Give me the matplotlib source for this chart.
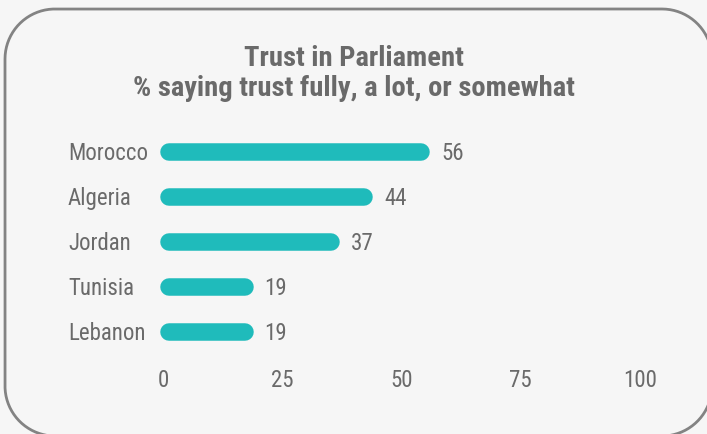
import matplotlib
matplotlib.use("Agg")
import numpy as np
import matplotlib.pyplot as plt
from matplotlib import font_manager
from matplotlib.lines import Line2D
from matplotlib.transforms import IdentityTransform

# Data
countries = ["Morocco", "Algeria", "Jordan", "Tunisia", "Lebanon"]
trust_pct = [56, 44, 37, 19, 19]
x_ticks = [0, 25, 50, 75, 100]
x_tick_labels = ["0", "25", "50", "75", "100"]
title_lines = ["Trust in Parliament", "% saying trust fully, a lot, or somewhat"]

BG = "#f6f6f6"
BAR = "#1fbbbb"
TEXT = "#6a6a6a"
BORDER = "#838383"


def pick_narrow():
    """Find a narrow/condensed face for the labels."""
    fonts = font_manager.fontManager.ttflist
    names = {f.name for f in fonts}
    for n in ["Liberation Sans Narrow", "Roboto Condensed", "Open Sans Condensed",
              "Noto Sans Condensed", "Arial Narrow", "Noto Sans ExtraCondensed"]:
        if n in names:
            return dict(family=n)
    for f in fonts:
        if "Narrow" in f.name or "Condensed" in f.name:
            return dict(family=f.name)
    for pref in ["Noto Sans", "Roboto", "Open Sans"]:
        for f in fonts:
            if f.name == pref and f.stretch in ("condensed", "extra-condensed",
                                                 "semi-condensed"):
                return dict(family=pref, stretch=f.stretch)
    return dict(family="DejaVu Sans", stretch="condensed")


narrow = pick_narrow()
LABEL_SIZE = 16.5
TITLE_SIZE = 20.5

W, H = 707, 434
DPI = 100
PT = 72 / DPI  # points per pixel
fig = plt.figure(figsize=(W / DPI, H / DPI), dpi=DPI, facecolor=BG)

# Plot area in pixel terms
x0_px, x100_px = 163, 640
top_px, bottom_px = 129.5, 354
ax = fig.add_axes([x0_px / W, 1 - bottom_px / H,
                   (x100_px - x0_px) / W, (bottom_px - top_px) / H])
ax.set_facecolor("none")
ax.set_xlim(0, 100)
ax.set_ylim(len(countries) - 0.5, -0.5)
for s in ax.spines.values():
    s.set_visible(False)
ax.set_yticks([])
ax.set_xticks(x_ticks)
ax.set_xticklabels(x_tick_labels, color=TEXT, fontsize=LABEL_SIZE, **narrow)
ax.tick_params(axis="x", length=0, pad=11)

# Rounded bars: thick lines with round caps, ends pulled in by the cap radius
bar_px = 17.5
lw_pt = bar_px * PT
px_per_unit = (x100_px - x0_px) / 100
cap = (bar_px / 2) / px_per_unit
for i, v in enumerate(trust_pct):
    ax.plot([cap - 0.6, v - cap], [i, i], color=BAR, lw=lw_pt,
            solid_capstyle="round", zorder=3, clip_on=False)
    ax.annotate(str(v), xy=(v, i), xytext=(11 * PT, -2 * PT),
                textcoords="offset points", ha="left", va="center",
                color=TEXT, fontsize=LABEL_SIZE, **narrow)

# Country names, left aligned
label_x = (68 - x0_px) / (x100_px - x0_px)
for i, name in enumerate(countries):
    ax.annotate(name, xy=(label_x, i), xycoords=ax.get_yaxis_transform(),
                xytext=(0, -2 * PT), textcoords="offset points",
                ha="left", va="center", color=TEXT, fontsize=LABEL_SIZE,
                **narrow)

# Title
for line, y_px in zip(title_lines, [59, 89]):
    fig.text(0.5, 1 - y_px / H, line, ha="center", va="center",
             color=TEXT, fontsize=TITLE_SIZE, fontweight="bold", **narrow)


# Rounded frame as a polyline (runs off the right and bottom edges)
def rounded_rect(x0, y0, x1, y1, r, n=40):
    pts = []
    corners = [(x1 - r, y1 - r, 0), (x0 + r, y1 - r, 90),
               (x0 + r, y0 + r, 180), (x1 - r, y0 + r, 270)]
    for cx, cy, a0 in corners:
        t = np.radians(np.linspace(a0, a0 + 90, n))
        pts.append(np.column_stack([cx + r * np.cos(t), cy + r * np.sin(t)]))
    pts = np.vstack(pts + [pts[0][:1]])
    return pts[:, 0], pts[:, 1]


fx, fy = rounded_rect(5, H - 436, 712, H - 9, 50)
frame = Line2D(fx, fy, transform=IdentityTransform(), color=BORDER,
               linewidth=2, solid_joinstyle="round")
fig.add_artist(frame)

fig.savefig("out.png", dpi=DPI, facecolor=BG)
